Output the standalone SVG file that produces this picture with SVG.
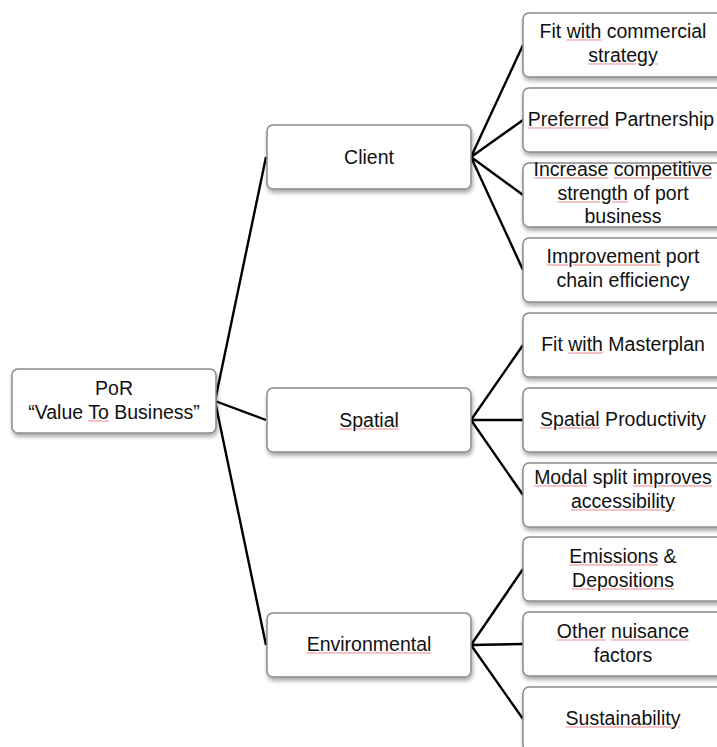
<svg xmlns="http://www.w3.org/2000/svg" width="717" height="747" viewBox="0 0 717 747">
<defs>
<filter id="sh" x="-10%" y="-20%" width="130%" height="160%">
<feDropShadow dx="1" dy="3" stdDeviation="2" flood-color="#000" flood-opacity="0.35"/>
</filter>
</defs>
<style>
.box{fill:#fff;stroke:#8a8a8a;stroke-width:1.5;filter:url(#sh)}
.t{font-family:"Liberation Sans",Arial,sans-serif;font-size:19.5px;fill:#111;text-anchor:middle}
.u{fill:#f5c3c6;text-decoration:underline}
.k{fill:#111}
.c{stroke:#000;stroke-width:2.4;fill:none}
</style>
<rect width="717" height="747" fill="#fff"/>
<g id="connectors">
<path class="c" d="M215 401 L266 157 M215 401 L266 420 M215 401 L266 645"/>
<path class="c" d="M471 157 L523 45 M471 157 L523 120 M471 157 L523 195 M471 157 L523 270"/>
<path class="c" d="M471 420 L523 345 M471 420 L523 420 M471 420 L523 495"/>
<path class="c" d="M471 645 L523 569 M471 645 L523 644 M471 645 L523 719"/>
</g>
<g id="root">
<rect class="box" x="12" y="369" width="204" height="64" rx="6"/>
<text class="t" x="114" y="395">PoR</text>
<text class="t" x="114" y="419">“Value <tspan class="u"><tspan class="k">To</tspan></tspan> Business”</text>
</g>
<g id="client">
<rect class="box" x="267" y="125" width="204" height="64" rx="6"/>
<text class="t" x="369" y="164">Client</text>
</g>
<g id="spatial">
<rect class="box" x="267" y="388" width="204" height="64" rx="6"/>
<text class="t" x="369" y="427"><tspan class="u"><tspan class="k">Spatial</tspan></tspan></text>
</g>
<g id="environmental">
<rect class="box" x="267" y="613" width="204" height="64" rx="6"/>
<text class="t" x="369" y="651"><tspan class="u"><tspan class="k">Environmental</tspan></tspan></text>
</g>
<g id="leaf-fit-commercial">
<rect class="box" x="523" y="13" width="204" height="64" rx="6"/>
<text class="t" x="623" y="38">Fit <tspan class="u"><tspan class="k">with</tspan></tspan> commercial</text>
<text class="t" x="623" y="62"><tspan class="u"><tspan class="k">strategy</tspan></tspan></text>
</g>
<g id="leaf-preferred">
<rect class="box" x="523" y="88" width="204" height="64" rx="6"/>
<text class="t" x="621" y="126"><tspan class="u"><tspan class="k">Preferred</tspan></tspan> Partnership</text>
</g>
<g id="leaf-competitive">
<rect class="box" x="523" y="163" width="204" height="64" rx="6"/>
<text class="t" x="623" y="176"><tspan class="u"><tspan class="k">Increase</tspan></tspan> <tspan class="u"><tspan class="k">competitive</tspan></tspan></text>
<text class="t" x="623" y="200"><tspan class="u"><tspan class="k">strength</tspan></tspan> of port</text>
<text class="t" x="623" y="223">business</text>
</g>
<g id="leaf-efficiency">
<rect class="box" x="523" y="238" width="204" height="64" rx="6"/>
<text class="t" x="623" y="263"><tspan class="u"><tspan class="k">Improvement</tspan></tspan> port</text>
<text class="t" x="623" y="287">chain efficiency</text>
</g>
<g id="leaf-masterplan">
<rect class="box" x="523" y="313" width="204" height="64" rx="6"/>
<text class="t" x="623" y="351">Fit <tspan class="u"><tspan class="k">with</tspan></tspan> Masterplan</text>
</g>
<g id="leaf-productivity">
<rect class="box" x="523" y="388" width="204" height="64" rx="6"/>
<text class="t" x="623" y="426"><tspan class="u"><tspan class="k">Spatial</tspan></tspan> Productivity</text>
</g>
<g id="leaf-modal">
<rect class="box" x="523" y="463" width="204" height="64" rx="6"/>
<text class="t" x="623" y="484"><tspan class="u"><tspan class="k">Modal</tspan></tspan> split <tspan class="u"><tspan class="k">improves</tspan></tspan></text>
<text class="t" x="623" y="508"><tspan class="u"><tspan class="k">accessibility</tspan></tspan></text>
</g>
<g id="leaf-emissions">
<rect class="box" x="523" y="537" width="204" height="64" rx="6"/>
<text class="t" x="623" y="563"><tspan class="u"><tspan class="k">Emissions</tspan></tspan> &amp;</text>
<text class="t" x="623" y="587"><tspan class="u"><tspan class="k">Depositions</tspan></tspan></text>
</g>
<g id="leaf-nuisance">
<rect class="box" x="523" y="612" width="204" height="64" rx="6"/>
<text class="t" x="623" y="638"><tspan class="u"><tspan class="k">Other</tspan></tspan> <tspan class="u"><tspan class="k">nuisance</tspan></tspan></text>
<text class="t" x="623" y="662">factors</text>
</g>
<g id="leaf-sustainability">
<rect class="box" x="523" y="687" width="204" height="64" rx="6"/>
<text class="t" x="623" y="725"><tspan class="u"><tspan class="k">Sustainability</tspan></tspan></text>
</g>
</svg>
